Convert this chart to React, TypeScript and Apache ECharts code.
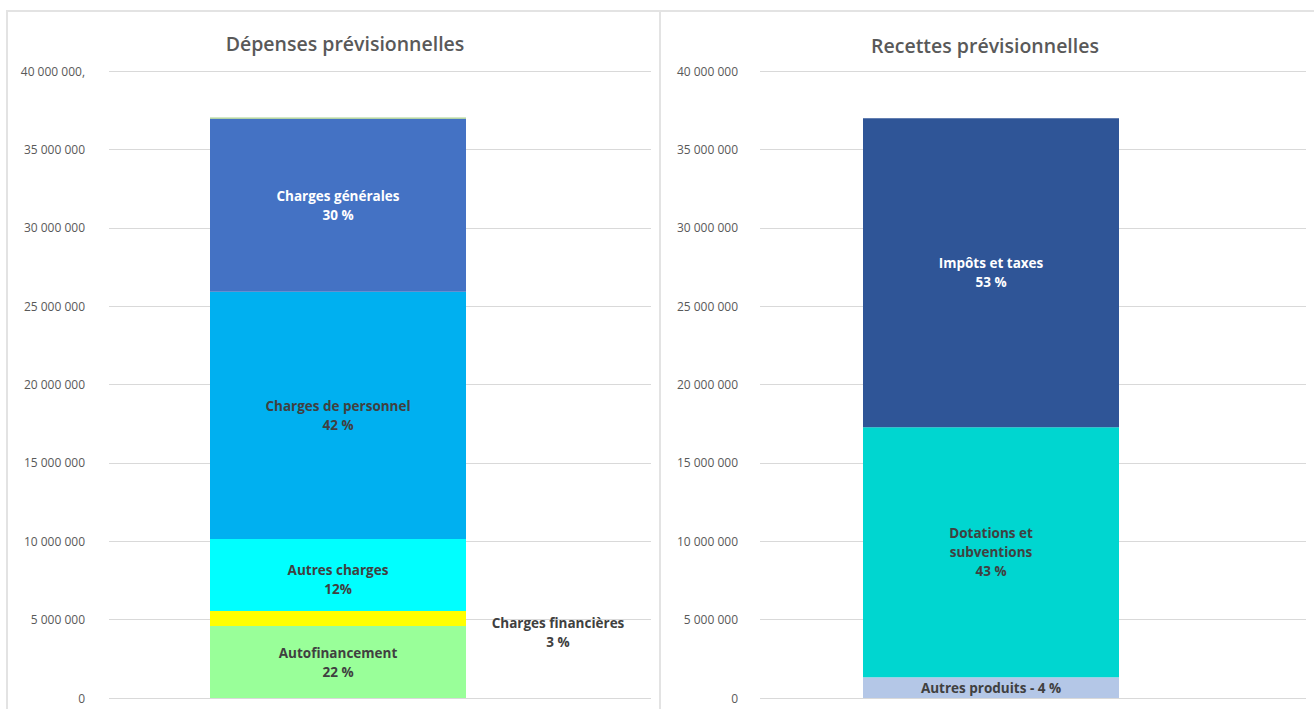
import React, { useEffect, useRef } from "react";
import * as echarts from "echarts";

// ---- Data ----
const depNames = ["Autofinancement", "Charges financières", "Autres charges", "Charges de personnel", "Charges générales", "Autres"];
const depValues = [4590000, 960000, 4600000, 15760000, 11040000, 80000];
const depPcts = ["22 %", "3 %", "12%", "42 %", "30 %", ""];
const depColors = ["#99FF99", "#FFFF00", "#00FFFF", "#00B0F0", "#4472C4", "#A9D18E"];
const depLabelColors = ["#404040", "#404040", "#404040", "#404040", "#FFFFFF", "#404040"];

const recNames = ["Autres produits", "Dotations et\nsubventions", "Impôts et taxes"];
const recValues = [1320000, 15950000, 19710000];
const recPcts = ["4 %", "43 %", "53 %"];
const recColors = ["#B4C7E7", "#00D6D0", "#2F5597"];
const recLabelColors = ["#404040", "#404040", "#FFFFFF"];

const leftTicks = ["0", "5 000 000", "10 000 000", "15 000 000", "20 000 000", "25 000 000", "30 000 000", "35 000 000", "40 000 000,"];
const rightTicks = ["0", "5 000 000", "10 000 000", "15 000 000", "20 000 000", "25 000 000", "30 000 000", "35 000 000", "40 000 000"];

const STEP = 5000000;
const MAX = 40000000;
const FONT = "'Open Sans', 'Noto Sans', sans-serif";

export default function App() {
  const ref = useRef<HTMLDivElement>(null);
  useEffect(() => {
    if (!ref.current) return;
    const chart = echarts.init(ref.current, undefined, { renderer: "svg" });

    const labelBase = {
      show: true,
      fontFamily: FONT,
      fontWeight: "bold" as const,
      fontSize: 13.5,
      color: "#404040",
      lineHeight: 19,
    };

    const fullY = (gridIndex: number, ticks: string[], margin: number) => ({
      type: "value",
      gridIndex,
      min: 0,
      max: MAX,
      interval: STEP,
      axisLine: { show: false },
      axisTick: { show: false },
      splitLine: { show: true, lineStyle: { color: "#D9D9D9", width: 1 } },
      axisLabel: {
        margin,
        color: "#595959",
        fontFamily: FONT,
        fontSize: 12,
        formatter: (v: number) => ticks[Math.round(v / STEP)] ?? "",
      },
    });
    const hiddenY = (gridIndex: number) => ({
      type: "value",
      gridIndex,
      min: 0,
      max: MAX,
      interval: STEP,
      show: false,
      splitLine: { show: false },
    });
    const hiddenX = (gridIndex: number) => ({
      type: "category",
      gridIndex,
      data: [""],
      show: false,
    });

    const depSeries = depNames.map((n, i) => {
      let label: any = { ...labelBase, color: depLabelColors[i], formatter: `${n}\n${depPcts[i]}` };
      if (n === "Autres") label = { show: false };
      if (n === "Autres charges") label.offset = [0, 5];
      if (n === "Charges financières") {
        label = { ...labelBase, formatter: `${n}\n${depPcts[i]}`, position: [348, 21], align: "center", verticalAlign: "middle" };
      }
      return {
        name: n,
        type: "bar",
        stack: "dep",
        xAxisIndex: 1,
        yAxisIndex: 1,
        barWidth: "100%",
        data: [depValues[i]],
        itemStyle: { color: depColors[i] },
        label,
      };
    });

    const recSeries = recNames.map((n, i) => ({
      name: n,
      type: "bar",
      stack: "rec",
      xAxisIndex: 3,
      yAxisIndex: 3,
      barWidth: "100%",
      data: [recValues[i]],
      itemStyle: { color: recColors[i] },
      label: {
        ...labelBase,
        color: recLabelColors[i],
        formatter: i === 0 ? `${n} - ${recPcts[i]}` : `${n}\n${recPcts[i]}`,
      },
    }));

    chart.setOption({
      animation: false,
      backgroundColor: "#FFFFFF",
      title: [
        {
          text: "Dépenses prévisionnelles",
          left: 345,
          top: 28,
          textAlign: "center",
          textStyle: { fontFamily: FONT, fontSize: 19.5, fontWeight: 600, color: "#595959" },
        },
        {
          text: "Recettes prévisionnelles",
          left: 985,
          top: 30,
          textAlign: "center",
          textStyle: { fontFamily: FONT, fontSize: 19.5, fontWeight: 600, color: "#595959" },
        },
      ],
      grid: [
        { left: 109, right: 1314 - 651, top: 71, bottom: 709 - 698 },
        { left: 210, width: 256, top: 71, bottom: 709 - 698 },
        { left: 760, right: 1314 - 1306, top: 71, bottom: 709 - 698 },
        { left: 863, width: 256, top: 71, bottom: 709 - 698 },
      ],
      xAxis: [hiddenX(0), hiddenX(1), hiddenX(2), hiddenX(3)],
      yAxis: [fullY(0, leftTicks, 24), hiddenY(1), fullY(2, rightTicks, 22), hiddenY(3)],
      series: [...depSeries, ...recSeries],
      graphic: [
        { type: "line", shape: { x1: 7, y1: 11, x2: 1314, y2: 11 }, style: { stroke: "#E3E3E3", lineWidth: 2 } },
        { type: "line", shape: { x1: 7, y1: 10, x2: 7, y2: 709 }, style: { stroke: "#E3E3E3", lineWidth: 2 } },
        { type: "line", shape: { x1: 660, y1: 10, x2: 660, y2: 709 }, style: { stroke: "#E3E3E3", lineWidth: 2 } },
      ],
    });
    // shift titles slightly to match the reference centres
    chart.setOption({ title: [{ left: 340 }, { left: 980 }] });
    return () => chart.dispose();
  }, []);
  return (
    <div
      ref={ref}
      style={{ position: "fixed", left: 0, top: 0, width: 1314, height: 709, background: "#fff" }}
    />
  );
}
